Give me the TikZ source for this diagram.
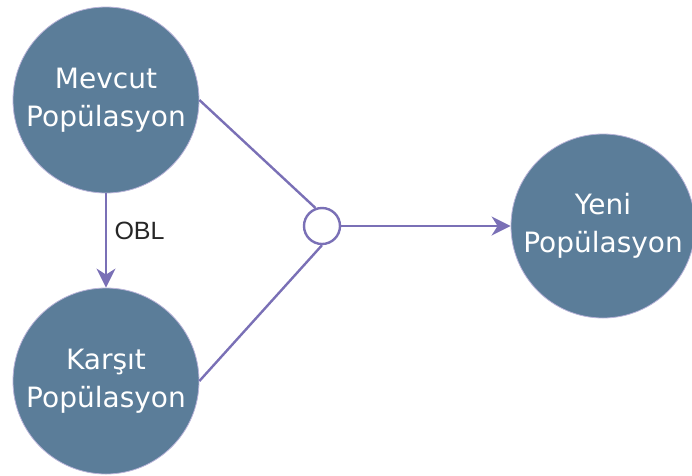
\documentclass[tikz,border=0pt]{standalone}
\usepackage{fontspec}
\setmainfont{DejaVu Sans}
\newfontfamily\labelfont{Liberation Sans}
\usetikzlibrary{arrows.meta}
\definecolor{popfill}{HTML}{5B7D99}
\definecolor{popedge}{HTML}{B8B3D8}
\definecolor{linkcol}{HTML}{7A70B6}
\begin{document}
\begin{tikzpicture}[x=1pt,y=-1pt,
  popnode/.style={circle, fill=popfill, draw=popedge, line width=0.8pt,
    minimum size=186pt, inner sep=0pt, text=white, align=center,
    font=\fontsize{28}{38}\selectfont},
  joinnode/.style={circle, fill=white, draw=linkcol, line width=2.4pt,
    minimum size=36pt, inner sep=0pt},
  link/.style={draw=linkcol, line width=2.4pt},
  arrowlink/.style={link, -{Stealth[length=19pt, width=19pt, inset=6pt]}},
  edgelabel/.style={font=\labelfont\fontsize{25}{30}\selectfont, text=black!85}
]
\useasboundingbox (0,0) rectangle (692,475);

\node[popnode] (mevcut) at (106,100) {Mevcut\\Popülasyon};
\node[popnode] (karsit) at (106,381) {Karşıt\\Popülasyon};
\node[popnode, minimum size=184pt] (yeni) at (603,226) {Yeni\\Popülasyon};
\node[joinnode] (join) at (322,226) {};

\draw[arrowlink] (mevcut.south) -- (karsit.north);
\node[edgelabel, anchor=west] (obl) at (111,231) {OBL};

\draw[link] (mevcut.east) -- (join.110);
\draw[link] (karsit.east) -- (join.south);
\draw[arrowlink] (join.east) -- (yeni.west);
\end{tikzpicture}
\end{document}
